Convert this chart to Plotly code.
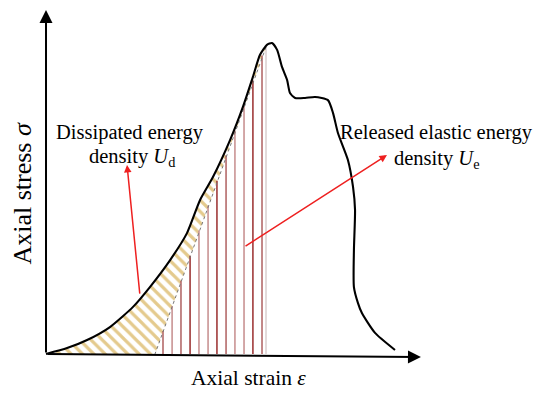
import plotly.graph_objects as go

# ---- data (arbitrary schematic units: strain 0..~170, stress 0..~110) ----
curve_strain = [0, 9.5, 18.5, 28.8, 39.2, 46.8, 55.9, 63.5, 69.4, 75.2, 82.9, 88.7, 93.2, 96.4, 99.5,
                101.8, 104.1, 106.3, 108.6, 109.9, 112.2, 116.7, 121.2, 127.0, 129.3, 131.5, 136.0,
                138.3, 139.2, 138.7, 138.7, 140.5, 142.3, 148.2, 157.2]
curve_stress = [0, 1.9, 4.5, 8.7, 15.2, 21.6, 30.3, 39.0, 49.7, 57.1, 69.0, 79.7, 89.4, 96.5, 99.7,
                100.3, 98.1, 92.6, 88.4, 84.2, 82.6, 82.6, 82.9, 81.9, 77.7, 71.3, 62.6,
                53.9, 46.5, 33.5, 21.6, 16.5, 13.2, 6.8, 1.3]
peak_index = 14  # pre-peak part ends here

unload_strain = [99.1, 49.1]
unload_stress = [99.0, 0.0]

release_strain = [52.7, 56.8, 60.8, 64.9, 68.9, 73.0, 77.0, 81.1, 85.1, 89.2, 93.2, 97.3, 99.1]
release_top = [7.4, 15.5, 23.6, 31.7, 39.8, 47.8, 55.9, 64.0, 72.1, 80.1, 88.2, 96.3, 99.0]

x_axis_end = 168.9
y_axis_end = 111.0

# ---- styles ----
FONT = "Liberation Serif"
release_colors = ["#b46a6a", "#c99393", "#b46a6a", "#a03a3a", "#c99393", "#c99393", "#a03a3a",
                  "#b46a6a", "#c99393", "#c99393", "#a03a3a", "#b46a6a", "#dcd2d2"]

fig = go.Figure()

# dissipated energy region (hatched)
hx = curve_strain[:peak_index + 1] + unload_strain + [0]
hy = curve_stress[:peak_index + 1] + unload_stress + [0]
fig.add_trace(go.Scatter(x=hx, y=hy, mode="lines", fill="toself", line=dict(width=0),
                         fillcolor="rgba(0,0,0,0)",
                         fillpattern=dict(shape="\\", fgcolor="#c9961c", bgcolor="white",
                                          size=8, solidity=0.4),
                         hoverinfo="skip", showlegend=False))

# released elastic energy (vertical lines)
for s, t, c in zip(release_strain, release_top, release_colors):
    fig.add_trace(go.Scatter(x=[s, s], y=[0, t], mode="lines",
                             line=dict(color=c, width=1.6), showlegend=False, hoverinfo="skip"))

# unloading line
fig.add_trace(go.Scatter(x=unload_strain, y=unload_stress, mode="lines",
                         line=dict(color="#777777", width=1, dash="dot"),
                         showlegend=False, hoverinfo="skip"))

# stress-strain curve
fig.add_trace(go.Scatter(x=curve_strain, y=curve_stress, mode="lines",
                         line=dict(color="black", width=2.1, shape="spline", smoothing=0.6),
                         showlegend=False, hoverinfo="skip"))

ann = []
# axes arrows
ann.append(dict(x=0, y=y_axis_end, ax=0, ay=0, xref="x", yref="y", axref="x", ayref="y",
                showarrow=True, arrowhead=2, arrowsize=1.3, arrowwidth=2, arrowcolor="black", text=""))
ann.append(dict(x=x_axis_end, y=-1.0, ax=0, ay=0, xref="x", yref="y", axref="x", ayref="y",
                showarrow=True, arrowhead=2, arrowsize=1.3, arrowwidth=2, arrowcolor="black", text=""))
# red pointer arrows
ann.append(dict(x=36.5, y=61.0, ax=42.3, ay=19.0, xref="x", yref="y", axref="x", ayref="y",
                showarrow=True, arrowhead=2, arrowsize=1, arrowwidth=1.5, arrowcolor="#ee2020", text=""))
ann.append(dict(x=153.6, y=64.2, ax=89.2, ay=34.5, xref="x", yref="y", axref="x", ayref="y",
                showarrow=True, arrowhead=2, arrowsize=1, arrowwidth=1.5, arrowcolor="#ee2020", text=""))

def label(x, y, text, size=20.5, angle=0):
    return dict(x=x, y=y, xref="x", yref="y", text=text, showarrow=False, textangle=angle,
                font=dict(family=FONT, size=size, color="black"), xanchor="center", yanchor="middle")

ann.append(label(37.8, 71.6, "Dissipated energy"))
ann.append(label(38.7, 63.5, "density <i>U</i><sub>d</sub>"))
ann.append(label(176.1, 71.3, "Released elastic energy"))
ann.append(label(176.1, 62.6, "density <i>U</i><sub>e</sub>"))
ann.append(label(-10.6, 51.9, "Axial stress <i>σ</i>", size=26, angle=-90))
ann.append(label(91.0, -7.7, "Axial strain <i>ε</i>", size=21.5))

fig.update_layout(
    width=550, height=397,
    margin=dict(l=0, r=0, t=0, b=0),
    paper_bgcolor="white", plot_bgcolor="white",
    xaxis=dict(range=[-17.12, 230.63], visible=False, fixedrange=True),
    yaxis=dict(range=[-16.45, 111.61], visible=False, fixedrange=True),
    annotations=ann,
    showlegend=False,
)

fig.write_html("out.html")
